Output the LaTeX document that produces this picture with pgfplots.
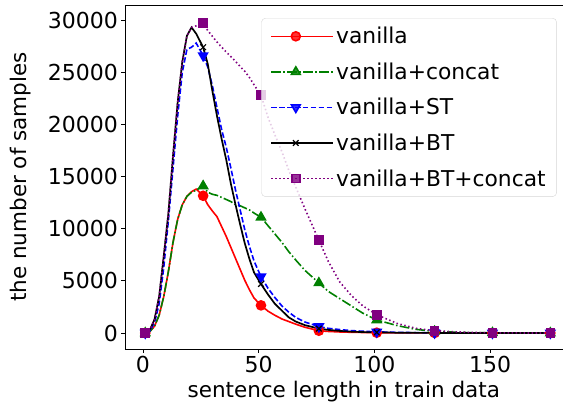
\documentclass[border=0pt]{standalone}
\usepackage{pgfplots}
\pgfplotsset{compat=1.18}
\usepackage{pgfplotstable}
\usepackage{fontspec}
\setmainfont{DejaVu Sans}
\definecolor{mplgreen}{RGB}{0,128,0}
\definecolor{mplpurple}{RGB}{128,0,128}
\definecolor{legedge}{RGB}{214,214,214}

\pgfplotstableread{
x   van    cat    st     bt     btc
1   0      0      0      0      0
3   150    150    200    300    300
5   650    650    1000   1300   1300
7   1700   1700   2800   3500   3500
9   3500   3500   6300   7400   7400
11  5900   5900   10800  11500  11500
13  8700   8700   15800  17000  17000
15  10900  10900  20800  22100  22100
17  12300  12300  25000  26000  26000
19  13100  13100  27200  28500  28500
21  13550  13500  27400  29300  29300
23  13800  13700  27800  28700  29450
26  13160  14100  26600  27400  29740
28  12300  13500  25500  25800  29000
30  11700  13300  23700  23200  28450
32  11150  13200  21600  20800  27900
34  10200  13000  19500  18600  27400
36  9250   12800  17800  16600  26950
38  8200   12600  15800  14300  26500
40  7150   12300  13700  12300  26050
42  6100   12200  11800  10400  25550
44  5050   12000  9900   8600   25100
46  4150   11800  8300   7100   24500
48  3350   11500  6900   5800   23800
51  2650   11100  5400   4700   22800
54  2100   10300  4300   3700   20700
57  1700   9500   3400   2800   19000
60  1350   8700   2600   2150   17400
63  1100   7800   2000   1500   15600
66  850    7000   1500   1100   14000
70  550    6000   1050   750    11900
76  220    4800   620    420    8900
80  150    4000   450    300    6900
85  100    3300   330    200    4900
90  70     2600   230    130    3600
95  50     1900   170    90     2600
101 30     1250   110    60     1750
110 15     700    60     30     900
118 10     350    35     15     450
126 5      150    20     10     220
140 0      40     5      5      60
151 0      15     0      0      20
165 0      5      0      0      5
176 0      0      0      0      0
}\datatab

\begin{document}
\begin{tikzpicture}
\begin{axis}[
  scale only axis,
  width=437.5pt, height=344pt,
  xmin=-7.75, xmax=181.25,
  ymin=-1534, ymax=31450,
  axis x line*=box,
  axis y line*=left,
  xtick pos=bottom,
  tick align=outside,
  major tick length=3.5pt,
  every tick/.style={black, line width=0.8pt},
  axis line style={black, line width=0.8pt},
  xtick={0,50,100,150},
  ytick={0,5000,10000,15000,20000,25000,30000},
  scaled ticks=false,
  /pgf/number format/1000 sep={},
  /pgf/number format/assume math mode=true,
  tick label style={font=\fontsize{22}{26}\selectfont},
  xlabel={sentence length in train data},
  ylabel={the number of samples},
  label style={font=\fontsize{21.5}{25}\selectfont},
  xlabel style={yshift=-2pt},
  ylabel style={yshift=10pt},
  legend style={
    at={(0.987,0.962)}, anchor=north east,
    draw=legedge, rounded corners=4pt, fill=white, fill opacity=0.8, text opacity=1,
    font=\fontsize{21.8}{25}\selectfont,
    row sep=13.5pt, inner xsep=9pt, inner ysep=7pt,
  },
  legend cell align=left,
  legend image code/.code={
    \path (0pt,0pt) -- (62pt,0pt);
    \draw[#1, mark indices={2}] plot coordinates {(0pt,0pt) (24.5pt,0pt) (49pt,0pt)};
  },
]
\addplot[red, solid, line width=1.6pt, mark=*, mark size=4.5pt, mark options={solid, fill=red, draw=red}, mark indices={1,13,25,32,37,40,42,44}] table[x=x,y=van] {\datatab};
\addlegendentry{vanilla}
\addplot[mplgreen, line width=1.6pt, dash pattern=on 9.6pt off 2.4pt on 1.5pt off 2.4pt, mark=triangle*, mark size=5pt, mark options={solid, fill=mplgreen, draw=mplgreen}, mark indices={1,13,25,32,37,40,42,44}] table[x=x,y=cat] {\datatab};
\addlegendentry{vanilla+concat}
\addplot[blue, line width=1.6pt, dash pattern=on 5.5pt off 2.4pt, mark=triangle*, mark size=5pt, mark options={solid, rotate=180, fill=blue, draw=blue}, mark indices={1,13,25,32,37,40,42,44}] table[x=x,y=st] {\datatab};
\addlegendentry{vanilla+ST}
\addplot[black, solid, line width=1.7pt, mark=x, mark size=4pt, mark options={solid, draw=black, line width=1.2pt}, mark indices={1,13,25,32,37,40,42,44}] table[x=x,y=bt] {\datatab};
\addlegendentry{vanilla+BT}
\addplot[mplpurple, line width=1.6pt, dash pattern=on 1.5pt off 2.5pt, mark=square*, mark size=4pt, mark options={solid, fill=mplpurple, draw=mplpurple}, mark indices={1,13,25,32,37,40,42,44}] table[x=x,y=btc] {\datatab};
\addlegendentry{vanilla+BT+concat}
\coordinate (bl) at (rel axis cs:0,0);
\coordinate (tr) at (rel axis cs:1,1);
\end{axis}
\pgfresetboundingbox
\path[use as bounding box] ([shift={(-125pt,-61pt)}]bl) rectangle ([shift={(0.5pt,5pt)}]tr);
\end{tikzpicture}
\end{document}
